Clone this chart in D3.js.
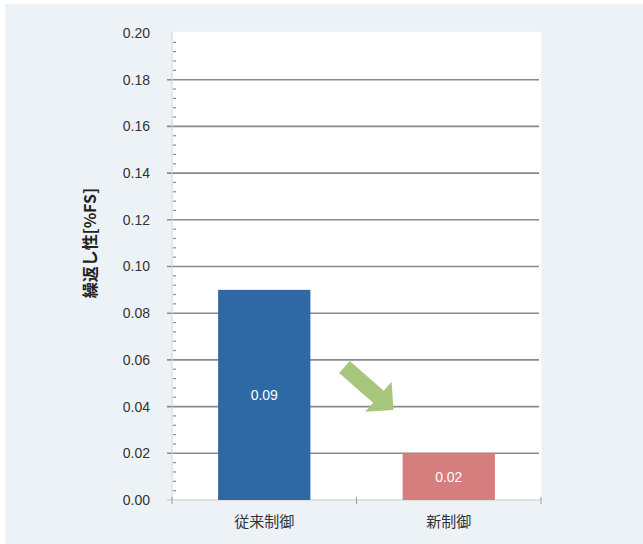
<!DOCTYPE html>
<html>
<head>
    <meta charset="utf-8">
    <script type="text/javascript" src="https://d3js.org/d3.v7.min.js"></script>
    <style>
        body {
            margin: 0;
            padding: 0;
            background: #ffffff;
        }
        .tick text {
            font-family: "Liberation Sans", Arial, sans-serif;
        }
    </style>
</head>
<body>
    <div id="chart"></div>
    <script>
        // chart data
        var categories = ["従来制御", "新制御"];
        var values = [0.09, 0.02];
        var barColors = ["#2e69a6", "#d67d7e"];
        var yTicks = [0, 0.02, 0.04, 0.06, 0.08, 0.10, 0.12, 0.14, 0.16, 0.18, 0.20];

        var width = 643, height = 544;
        var margin = { top: 33, left: 172, right: 102, bottom: 44 };
        var plotW = width - margin.left - margin.right,
            plotH = height - margin.top - margin.bottom;

        var svg = d3.select("#chart")
            .append("svg")
            .attr("width", width)
            .attr("height", height);

        // light panel background
        svg.append("rect")
            .attr("x", 5).attr("y", 4)
            .attr("width", width - 5).attr("height", height - 4)
            .attr("fill", "#edf2f7");

        var g = svg.append("g")
            .attr("transform", "translate(" + margin.left + "," + margin.top + ")");

        var x = d3.scaleBand().domain(categories).range([0, plotW]).paddingInner(0.5).paddingOuter(0.25);
        var y = d3.scaleLinear().domain([0, 0.20]).range([plotH, 0]);

        // plot area
        g.append("rect")
            .attr("x", 0).attr("y", -1)
            .attr("width", plotW).attr("height", plotH + 1)
            .attr("fill", "#ffffff")
            .attr("stroke", "#f7fafc");

        // gridlines
        g.selectAll(".grid")
            .data(yTicks.filter(function(d) { return d > 0 && d < 0.2; }))
            .enter().append("line")
            .attr("class", "grid")
            .attr("x1", -5).attr("x2", plotW - 2)
            .attr("y1", function(d) { return y(d); })
            .attr("y2", function(d) { return y(d); })
            .attr("stroke", "#8a8a8a")
            .attr("stroke-width", 1.6);

        // minor ticks inside the y axis
        var minor = d3.range(0, 0.2001, 0.004).filter(function(d) {
            return Math.abs(d / 0.02 - Math.round(d / 0.02)) > 0.01;
        });
        g.selectAll(".minor")
            .data(minor)
            .enter().append("line")
            .attr("x1", 1).attr("x2", 4)
            .attr("y1", function(d) { return y(d); })
            .attr("y2", function(d) { return y(d); })
            .attr("stroke", "#8a8a8a")
            .attr("stroke-width", 1.2);

        // axis lines
        g.append("line")
            .attr("x1", 0).attr("x2", 0).attr("y1", -1).attr("y2", plotH)
            .attr("stroke", "#d0d4d8");
        g.append("line")
            .attr("x1", -5).attr("x2", plotW).attr("y1", plotH).attr("y2", plotH)
            .attr("stroke", "#c8ccd0").attr("stroke-width", 1.2);
        // category separator ticks
        g.selectAll(".xtick")
            .data([0, plotW / 2, plotW])
            .enter().append("line")
            .attr("x1", function(d) { return d; }).attr("x2", function(d) { return d; })
            .attr("y1", plotH - 3).attr("y2", plotH + 4)
            .attr("stroke", "#9a9a9a");

        // y tick labels
        var yAxis = d3.axisLeft(y).tickValues(yTicks).tickSize(0).tickPadding(22)
            .tickFormat(d3.format(".2f"));
        var ya = g.append("g").call(yAxis);
        ya.select(".domain").remove();
        ya.selectAll("text")
            .attr("font-size", 14)
            .attr("fill", "#333333");

        // bars
        g.selectAll(".bar")
            .data(values)
            .enter().append("rect")
            .attr("class", "bar")
            .attr("x", function(d, i) { return x(categories[i]); })
            .attr("y", function(d) { return y(d); })
            .attr("width", x.bandwidth())
            .attr("height", function(d) { return plotH - y(d); })
            .attr("fill", function(d, i) { return barColors[i]; });

        // bar value labels
        g.selectAll(".val")
            .data(values)
            .enter().append("text")
            .attr("x", function(d, i) { return x(categories[i]) + x.bandwidth() / 2; })
            .attr("y", function(d) { return (y(d) + plotH) / 2 + 5; })
            .attr("text-anchor", "middle")
            .attr("font-family", "Liberation Sans, Arial, sans-serif")
            .attr("font-size", 14)
            .attr("fill", "#ffffff")
            .text(function(d) { return d3.format(".2f")(d); });

        // category labels
        g.selectAll(".cat")
            .data(categories)
            .enter().append("text")
            .attr("x", function(d) { return x(d) + x.bandwidth() / 2; })
            .attr("y", plotH + 27)
            .attr("text-anchor", "middle")
            .attr("font-family", "Noto Sans CJK JP, sans-serif")
            .attr("font-size", 15)
            .attr("fill", "#333333")
            .text(function(d) { return d; });

        // y axis title
        g.append("text")
            .attr("transform", "translate(-76," + y(0.11) + ") rotate(-90)")
            .attr("text-anchor", "middle")
            .attr("font-family", "Noto Sans CJK JP, sans-serif")
            .attr("font-weight", "bold")
            .attr("font-size", 16)
            .attr("fill", "#222222")
            .text("繰返し性[%FS]");

        // green arrow between bars
        var ax0 = x(categories[0]) + x.bandwidth(),
            ax1 = x(categories[1]);
        var gap = ax1 - ax0;
        var tail = [ax0 + gap * 0.37, y(0.057)],
            tip = [ax0 + gap * 0.90, y(0.0385)];
        var dx = tip[0] - tail[0], dy = tip[1] - tail[1];
        var len = Math.sqrt(dx * dx + dy * dy);
        var ang = Math.atan2(dy, dx) * 180 / Math.PI;
        var sw = 8, hw = 20, hl = 20;
        g.append("path")
            .attr("transform", "translate(" + tail[0] + "," + tail[1] + ") rotate(" + ang + ")")
            .attr("d", "M0," + (-sw) + "L" + (len - hl) + "," + (-sw) + "L" + (len - hl) + "," + (-hw) +
                "L" + len + ",0L" + (len - hl) + "," + hw + "L" + (len - hl) + "," + sw + "L0," + sw + "Z")
            .attr("fill", "#a7c57c");
    </script>
</body>
</html>
